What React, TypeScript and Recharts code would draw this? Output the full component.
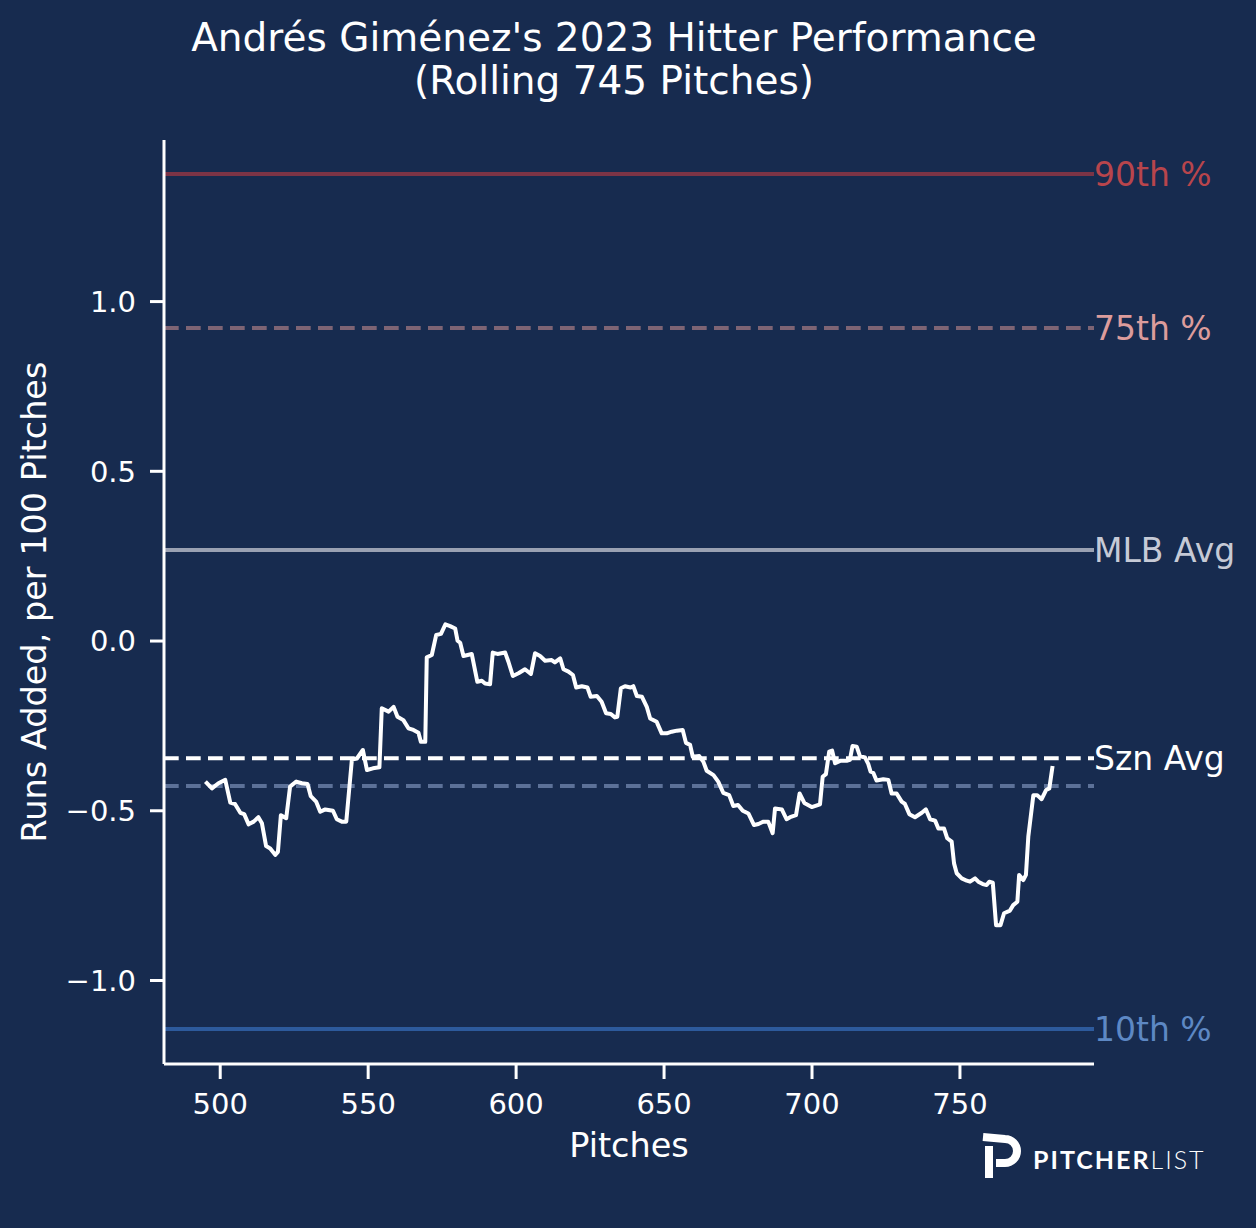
import React from "react";
import { LineChart, Line, XAxis, YAxis, ReferenceLine } from "recharts";

const BG = "#172b4f";
const FONT = "DejaVu Sans";

const pitches = [
  495.0, 497.2, 499.4, 501.7, 503.4, 505.0, 506.8, 508.1, 509.6, 511.3, 512.9, 514.1, 515.5, 516.9, 518.6,
  519.5, 520.5, 522.3, 523.6, 525.7, 527.6, 529.5, 530.6, 532.4, 533.8, 535.5, 538.1, 539.4, 541.1, 542.6,
  544.5, 546.2, 548.2, 549.6, 551.6, 553.8, 554.6, 556.9, 558.6, 559.9, 561.9, 563.6, 565.3, 567.0, 567.8,
  569.3, 569.8, 571.5, 573.0, 574.6, 576.1, 577.7, 579.4, 580.2, 581.1, 582.2, 585.0, 586.9, 588.4, 589.5,
  591.2, 592.1, 593.7, 596.3, 597.4, 598.9, 600.8, 603.0, 605.0, 606.4, 608.1, 609.8, 612.0, 613.1, 614.9,
  616.0, 617.7, 619.2, 620.3, 622.2, 624.1, 625.2, 627.3, 628.9, 630.4, 632.0, 633.4, 634.2, 635.4, 636.8,
  638.7, 639.6, 640.8, 642.5, 644.2, 645.3, 647.5, 649.2, 650.9, 652.6, 654.3, 656.3, 657.4, 658.8, 659.7,
  661.9, 663.3, 664.4, 666.7, 668.3, 670.0, 672.0, 673.4, 675.0, 676.6, 678.5, 680.4, 681.9, 683.6, 685.2,
  686.7, 687.5, 689.8, 691.4, 692.6, 694.6, 695.8, 697.4, 699.9, 702.7, 703.6, 704.7, 705.8, 706.8, 707.8,
  709.5, 711.7, 712.8, 713.7, 715.1, 716.2, 717.9, 719.0, 719.8, 720.7, 721.8, 724.1, 725.8, 726.9, 728.6,
  730.3, 731.4, 732.9, 734.8, 737.1, 738.5, 739.9, 741.6, 742.7, 744.6, 745.7, 747.2, 748.0, 748.9, 750.6,
  752.3, 753.4, 755.1, 756.2, 757.7, 759.0, 759.9, 761.1, 762.2, 763.7, 764.9, 766.9, 768.0, 769.4, 770.0,
  771.4, 772.3, 773.1, 774.8, 776.1, 777.6, 779.1, 780.2, 781.3,
];

const runsAdded = [
  -0.414, -0.434, -0.419, -0.409, -0.476, -0.48, -0.506, -0.51, -0.54, -0.532, -0.519, -0.537, -0.604, -0.611, -0.63,
  -0.621, -0.513, -0.522, -0.429, -0.414, -0.419, -0.421, -0.457, -0.473, -0.503, -0.496, -0.5, -0.525, -0.532, -0.532,
  -0.349, -0.346, -0.321, -0.38, -0.375, -0.372, -0.198, -0.208, -0.194, -0.223, -0.233, -0.257, -0.262, -0.27, -0.297,
  -0.297, -0.048, -0.041, 0.018, 0.021, 0.049, 0.044, 0.037, 0.001, -0.005, -0.044, -0.038, -0.12, -0.117, -0.125,
  -0.127, -0.034, -0.038, -0.034, -0.061, -0.103, -0.095, -0.083, -0.097, -0.036, -0.044, -0.058, -0.056, -0.063, -0.051,
  -0.083, -0.09, -0.1, -0.137, -0.133, -0.137, -0.164, -0.162, -0.179, -0.213, -0.215, -0.225, -0.223, -0.139, -0.133,
  -0.137, -0.133, -0.162, -0.164, -0.195, -0.228, -0.238, -0.272, -0.272, -0.267, -0.264, -0.262, -0.3, -0.306, -0.341,
  -0.339, -0.356, -0.382, -0.395, -0.414, -0.447, -0.454, -0.486, -0.483, -0.5, -0.508, -0.542, -0.539, -0.532, -0.532,
  -0.566, -0.493, -0.496, -0.525, -0.519, -0.513, -0.449, -0.477, -0.489, -0.481, -0.4, -0.392, -0.326, -0.323, -0.36,
  -0.353, -0.353, -0.35, -0.309, -0.311, -0.339, -0.343, -0.362, -0.385, -0.388, -0.411, -0.407, -0.409, -0.449, -0.449,
  -0.473, -0.48, -0.51, -0.519, -0.506, -0.496, -0.525, -0.529, -0.552, -0.552, -0.581, -0.591, -0.655, -0.684, -0.699,
  -0.706, -0.709, -0.699, -0.709, -0.716, -0.719, -0.709, -0.712, -0.837, -0.837, -0.802, -0.794, -0.778, -0.768, -0.689,
  -0.704, -0.689, -0.576, -0.454, -0.454, -0.466, -0.439, -0.434, -0.368,
];

const xTicks = [500, 550, 600, 650, 700, 750];
const yTicks = [-1, -0.5, 0, 0.5, 1];

const refNames = ["90th %", "75th %", "MLB Avg", "Szn Avg", "", "10th %"];
const refValues = [1.376, 0.922, 0.268, -0.345, -0.427, -1.143];
const refLineColors = ["#7c3446", "#7e6474", "#9aa1b2", "#ffffff", "#5c7198", "#2d5a9c"];
const refTextColors = ["#b8454c", "#dc9c9c", "#c6cad6", "#ffffff", "#ffffff", "#5d88c4"];
const refDashes = ["", "14.7 7.3", "", "14.7 7.3", "14.7 7.3", ""];

const data = pitches.map((p, i) => ({ pitch: p, runs: runsAdded[i] }));

const fmtY = (v: number) => (v < 0 ? "\u2212" + Math.abs(v).toFixed(1) : v.toFixed(1));

export default function App() {
  return (
    <div style={{ position: "absolute", left: 0, top: 0, width: 1256, height: 1228, background: BG, overflow: "hidden" }}>
      <LineChart width={1256} height={1228} data={data} margin={{ top: 140, right: 162, bottom: 104, left: 64 }}>
        <XAxis
          type="number"
          dataKey="pitch"
          domain={[481, 795.3]}
          ticks={xTicks}
          allowDataOverflow
          height={60}
          tickSize={15}
          tickMargin={14}
          axisLine={{ stroke: "#ffffff", strokeWidth: 3 }}
          tickLine={{ stroke: "#ffffff", strokeWidth: 3 }}
          tick={{ fill: "#ffffff", fontSize: 29, fontFamily: FONT }}
        />
        <YAxis
          type="number"
          domain={[-1.246, 1.476]}
          ticks={yTicks}
          allowDataOverflow
          width={100}
          tickSize={14}
          tickMargin={14}
          tickFormatter={fmtY}
          axisLine={{ stroke: "#ffffff", strokeWidth: 3 }}
          tickLine={{ stroke: "#ffffff", strokeWidth: 3 }}
          tick={{ fill: "#ffffff", fontSize: 29, fontFamily: FONT }}
        />
        {refValues.map((v, i) => (
          <ReferenceLine
            key={i}
            y={v}
            stroke={refLineColors[i]}
            strokeWidth={4}
            strokeDasharray={refDashes[i] || undefined}
            label={
              refNames[i]
                ? {
                    value: refNames[i],
                    position: "right",
                    offset: 0,
                    fill: refTextColors[i],
                    fontSize: 33,
                    fontFamily: FONT,
                  }
                : undefined
            }
          />
        ))}
        <Line
          type="linear"
          dataKey="runs"
          stroke="#ffffff"
          strokeWidth={4}
          strokeLinejoin="round"
          dot={false}
          isAnimationActive={false}
        />
      </LineChart>
      <svg
        width={1256}
        height={1228}
        style={{ position: "absolute", left: 0, top: 0, pointerEvents: "none" }}
        fontFamily={FONT}
      >
        <text x={614} y={37} fill="#ffffff" fontSize={39} textAnchor="middle" dominantBaseline="central">
          Andrés Giménez's 2023 Hitter Performance
        </text>
        <text x={614} y={80} fill="#ffffff" fontSize={39} textAnchor="middle" dominantBaseline="central">
          (Rolling 745 Pitches)
        </text>
        <text x={629} y={1145} fill="#ffffff" fontSize={33.5} textAnchor="middle" dominantBaseline="central">
          Pitches
        </text>
        <text
          x={34}
          y={602}
          fill="#ffffff"
          fontSize={33.5}
          textAnchor="middle"
          dominantBaseline="central"
          transform="rotate(-90 34 602)"
        >
          Runs Added, per 100 Pitches
        </text>
        <path
          d="M983 1137 L1005 1139 A 12 12 0 0 1 1005 1163 L996 1163"
          fill="none"
          stroke="#ffffff"
          strokeWidth={8}
        />
        <path d="M989 1146 L989 1178" stroke="#ffffff" strokeWidth={8} />
        <text
          x={1033}
          y={1159}
          fill="#ffffff"
          fontSize={25}
          fontFamily="Lato"
          letterSpacing={2}
          dominantBaseline="central"
        >
          <tspan fontWeight="bold">PITCHER</tspan>
          <tspan fontWeight="300">LIST</tspan>
        </text>
      </svg>
    </div>
  );
}
